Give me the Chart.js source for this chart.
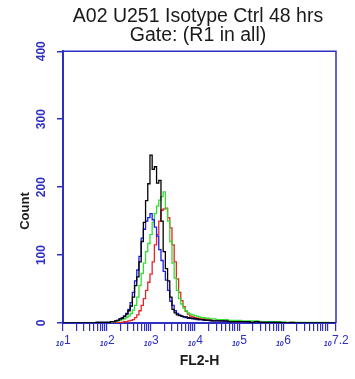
<!DOCTYPE html>
<html>
<head>
<meta charset="utf-8">
<script src="https://cdn.jsdelivr.net/npm/chart.js@4.4.1/dist/chart.umd.min.js"></script>
<style>
  html, body { margin: 0; padding: 0; background: #fff; }
  #wrap { width: 355px; height: 379px; }
</style>
</head>
<body>
<div id="wrap"><canvas id="chart"></canvas></div>
<script>
const titleLines = ["A02 U251 Isotype Ctrl 48 hrs", "Gate: (R1 in all)"];
const xAxisTitle = "FL2-H";
const yAxisTitle = "Count";

// histogram bin centres, in decades of FL2-H
const binExponents = [1.0, 1.5,
  2.0, 2.05, 2.1, 2.15, 2.2, 2.25, 2.3, 2.35, 2.4, 2.45,
  2.5, 2.55, 2.6, 2.65, 2.7, 2.75, 2.8, 2.85, 2.9, 2.95,
  3.0, 3.05, 3.1, 3.15, 3.2, 3.25, 3.3, 3.35, 3.4, 3.45,
  3.5, 3.55, 3.6, 3.65, 3.7, 3.75, 3.8, 3.85, 3.9, 3.95,
  4.0, 4.05, 4.1, 4.15, 4.2, 4.25, 4.3, 4.35, 4.4, 4.45, 4.5,
  4.6, 4.7, 4.8, 4.9, 5.0, 5.1, 5.2, 5.3, 5.4, 5.5,
  5.6, 5.7, 5.8, 5.9, 6.0, 6.1, 6.2, 6.3, 6.4, 6.5,
  6.6, 6.7, 6.8, 6.9, 7.0, 7.1, 7.2];

const blackCounts = [0, 0,
  1, 1, 2, 2, 3, 4, 6, 7, 10, 13,
  18, 25, 38, 55, 68, 90, 120, 148, 180, 205,
  247, 226, 230, 206, 210, 150, 105, 80, 62, 38,
  20, 15, 12, 11, 10, 9, 9, 8, 7, 7,
  6, 6, 5, 5, 5, 4, 4, 4, 3, 3, 3,
  3, 3, 2, 2, 2, 2, 2, 1, 2, 1,
  1, 1, 1, 1, 1, 0, 1, 0, 0, 0,
  0, 0, 0, 0, 0, 0, 0];

const blueCounts = [0, 0,
  1, 1, 2, 2, 3, 4, 6, 8, 10, 14,
  20, 30, 45, 62, 78, 98, 125, 138, 150, 155,
  161, 152, 141, 128, 108, 92, 76, 63, 48, 32,
  26, 18, 14, 12, 10, 9, 8, 7, 7, 6,
  6, 5, 5, 5, 4, 4, 4, 3, 3, 3, 3,
  3, 2, 2, 2, 2, 2, 1, 1, 1, 1,
  1, 1, 1, 0, 0, 0, 0, 0, 0, 0,
  0, 0, 0, 0, 0, 0, 0];

const greenCounts = [0, 0,
  1, 1, 1, 2, 2, 3, 4, 5, 6, 8,
  10, 14, 19, 26, 38, 55, 73, 88, 105, 117,
  130, 148, 161, 172, 181, 186, 193, 168, 150, 120,
  88, 66, 48, 36, 28, 22, 18, 15, 13, 12,
  11, 10, 9, 8, 8, 7, 7, 6, 6, 6, 5,
  5, 5, 4, 4, 4, 3, 3, 3, 3, 2,
  2, 2, 2, 2, 1, 1, 1, 1, 1, 1,
  1, 1, 1, 1, 1, 0, 0];

const redCounts = [0, 0,
  0, 0, 0, 0, 1, 1, 1, 1, 2, 2,
  3, 4, 5, 8, 12, 18, 26, 36, 48, 60,
  72, 90, 115, 130, 150, 166, 168, 169, 155, 140,
  115, 90, 65, 45, 33, 24, 17, 13, 10, 9,
  8, 7, 7, 6, 6, 5, 5, 5, 4, 4, 4,
  3, 3, 3, 2, 2, 2, 2, 1, 1, 1,
  1, 1, 1, 1, 0, 0, 0, 0, 0, 0,
  0, 0, 0, 0, 0, 0, 0];

const yTickValues = [0, 100, 200, 300, 400];
const xTickExponents = [1, 2, 3, 4, 5, 6, 7.2];
const xTickLabels = ["1", "2", "3", "4", "5", "6", "7.2"];

const axisBlue = "#2f2fc4";
const fontFamily = '"Liberation Sans", Arial, sans-serif';

function toPoints(counts) {
  return binExponents.map((e, i) => ({ x: Math.pow(10, e), y: counts[i] }));
}

function series(label, counts, color) {
  return {
    label: label,
    data: toPoints(counts),
    borderColor: color,
    borderWidth: 1.3,
    pointRadius: 0,
    stepped: "middle",
    fill: false,
  };
}

// frame on top/right plus the hand-placed tick labels
const flowAxes = {
  id: "flowAxes",
  afterDraw(chart) {
    const { ctx, chartArea: a, scales } = chart;
    ctx.save();
    ctx.strokeStyle = axisBlue;
    ctx.lineWidth = 1.5;
    ctx.beginPath();
    ctx.moveTo(a.left, a.top);
    ctx.lineTo(a.right, a.top);
    ctx.lineTo(a.right, a.bottom);
    ctx.stroke();

    ctx.fillStyle = axisBlue;
    ctx.textAlign = "center";
    ctx.textBaseline = "middle";
    ctx.font = "bold 12px " + fontFamily;
    yTickValues.forEach((v) => {
      ctx.save();
      ctx.translate(42, scales.y.getPixelForValue(v));
      ctx.rotate(-Math.PI / 2);
      ctx.fillText(String(v), 0, 0);
      ctx.restore();
    });

    ctx.fillStyle = "#1a1a1a";
    ctx.font = "bold 13px " + fontFamily;
    ctx.save();
    ctx.translate(25, 211);
    ctx.rotate(-Math.PI / 2);
    ctx.fillText(yAxisTitle, 0, 0);
    ctx.restore();

    ctx.fillStyle = axisBlue;
    ctx.textAlign = "left";
    ctx.textBaseline = "alphabetic";
    xTickExponents.forEach((e, i) => {
      const px = scales.x.getPixelForValue(Math.pow(10, e));
      ctx.font = "italic bold 7px " + fontFamily;
      const wb = ctx.measureText("10").width;
      ctx.font = "12px " + fontFamily;
      const ws = ctx.measureText(xTickLabels[i]).width;
      const start = px - (wb + ws) / 2;
      ctx.font = "italic bold 7px " + fontFamily;
      ctx.fillText("10", start, 346);
      ctx.font = "12px " + fontFamily;
      ctx.fillText(xTickLabels[i], start + wb + 0.5, 344);
    });
    ctx.restore();
  },
};

const ctx = document.getElementById("chart").getContext("2d");
new Chart(ctx, {
  type: "line",
  data: {
    datasets: [
      series("black", blackCounts, "#000000"),
      series("blue", blueCounts, "#1c1ce6"),
      series("green", greenCounts, "#2fe02f"),
      series("red", redCounts, "#ea2424"),
    ],
  },
  options: {
    responsive: true,
    maintainAspectRatio: false,
    animation: false,
    // left padding centres the title over the plot; the y axis box itself is narrow
    layout: { padding: { left: 60, right: 19, top: 0, bottom: 0 } },
    plugins: {
      legend: { display: false },
      tooltip: { enabled: false },
      title: {
        display: true,
        text: titleLines,
        color: "#1a1a1a",
        font: { family: fontFamily, size: 19.5, weight: "normal", lineHeight: 0.93 },
        padding: { top: 8, bottom: 7 },
      },
    },
    scales: {
      x: {
        type: "logarithmic",
        min: 10,
        max: Math.pow(10, 7.2),
        afterBuildTicks: (scale) => {
          const ticks = [];
          for (let n = 1; n <= 6; n++) {
            for (let k = 1; k <= 9; k++) ticks.push({ value: k * Math.pow(10, n) });
          }
          ticks.push({ value: 1e7 }, { value: Math.pow(10, 7.2) });
          scale.ticks = ticks;
        },
        afterFit: (scale) => { scale.height = 56; },
        ticks: { display: false },
        grid: { display: true, drawOnChartArea: false, drawTicks: true, tickLength: 8, color: axisBlue, lineWidth: 1.2 },
        border: { display: true, color: axisBlue, width: 2 },
        title: {
          display: true,
          text: xAxisTitle,
          color: "#1a1a1a",
          font: { family: fontFamily, size: 14, weight: "bold" },
          padding: { top: 0, bottom: 9 },
        },
      },
      y: {
        type: "linear",
        min: 0,
        max: 400,
        afterFit: (scale) => { scale.width = 3; },
        ticks: { stepSize: 100, display: false },
        grid: { display: true, drawOnChartArea: false, drawTicks: true, tickLength: 6, color: axisBlue, lineWidth: 1.5 },
        border: { display: true, color: axisBlue, width: 2 },
      },
    },
  },
  plugins: [flowAxes],
});
</script>
</body>
</html>
